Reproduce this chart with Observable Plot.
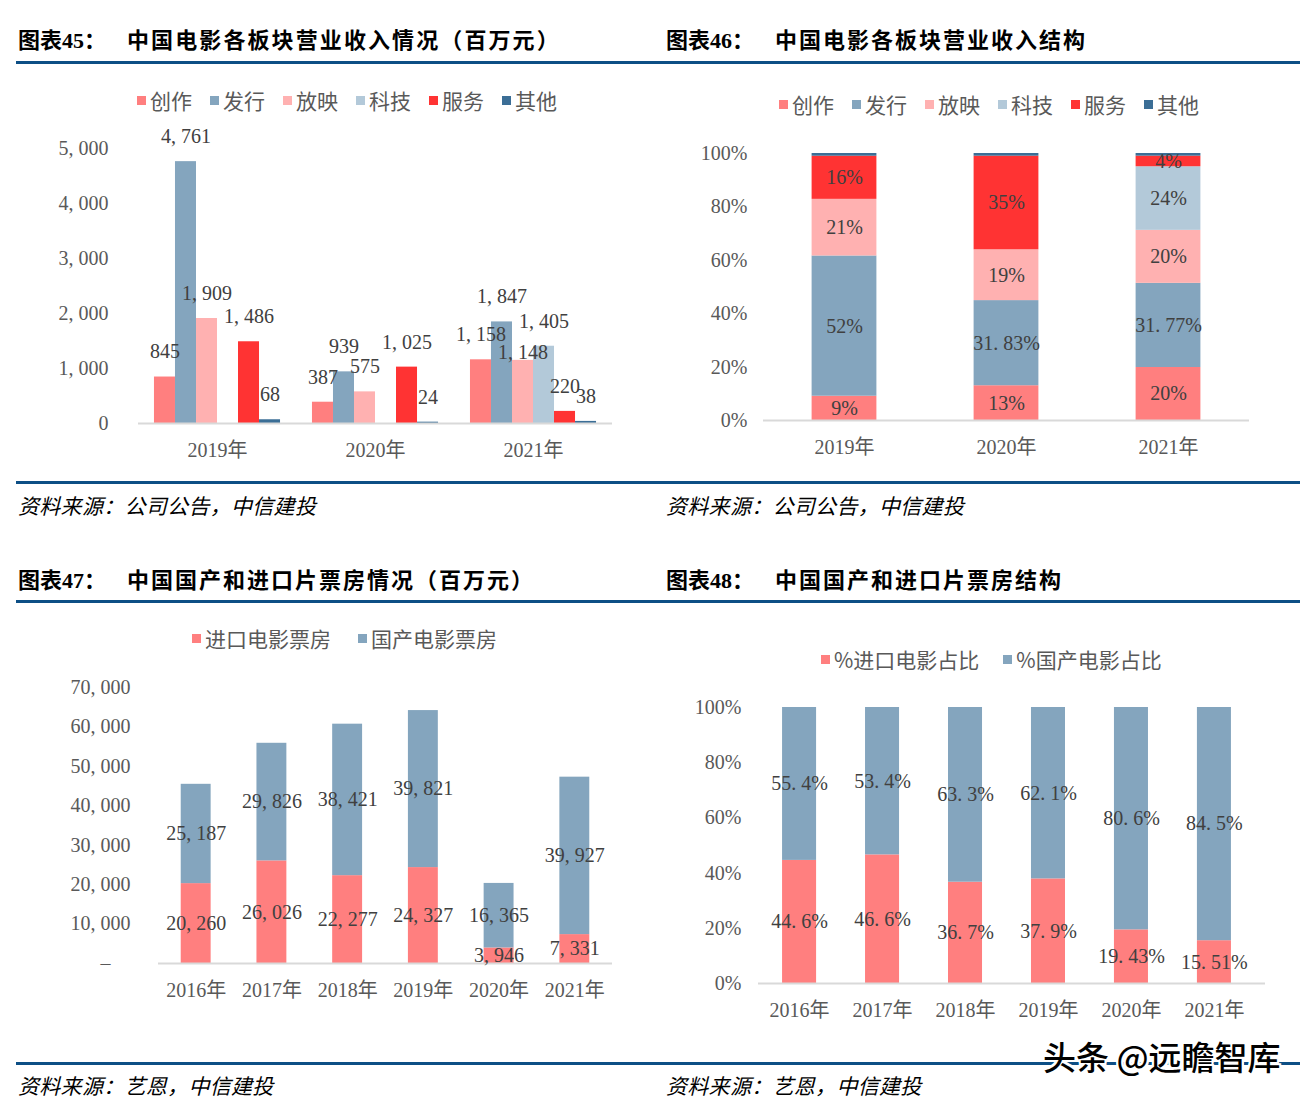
<!DOCTYPE html>
<html><head><meta charset="utf-8">
<script src="https://cdn.jsdelivr.net/npm/d3@7"></script>
<script src="https://cdn.jsdelivr.net/npm/@observablehq/plot@0.6"></script>
<style>
body{margin:0;background:#fff;}
#page{position:relative;width:1314px;height:1106px;overflow:hidden;background:#fff;font-family:"Liberation Serif","Noto Sans CJK SC",serif;}
.rule{position:absolute;left:16px;width:1284px;height:3px;background:#0d4f85;}
.title{position:absolute;font-size:22px;font-weight:bold;color:#000;line-height:28px;white-space:nowrap;font-family:"Liberation Serif","Noto Sans CJK SC",serif;}
.src{position:absolute;font-size:21px;letter-spacing:0.3px;font-style:italic;color:#000;line-height:26px;white-space:nowrap;font-family:"Noto Sans CJK SC",sans-serif;}
.legend{position:absolute;display:flex;font-size:21px;color:#595959;line-height:26px;white-space:nowrap;font-family:"Noto Sans CJK SC",sans-serif;}
.legend .item{display:flex;align-items:center;}
.legend .sw{width:9px;height:9px;margin-right:4px;}
.chart{position:absolute;}
.wm{position:absolute;font-size:33px;font-weight:500;color:#000;line-height:38px;white-space:nowrap;font-family:"Noto Sans CJK SC",sans-serif;
  text-shadow:-2px 0 #fff,2px 0 #fff,0 -2px #fff,0 2px #fff,-2px -2px #fff,2px 2px #fff,-2px 2px #fff,2px -2px #fff;}
</style></head>
<body>
<div id="page"></div>
<script>
// ---------- data ----------
const sectors = ["创作", "发行", "放映", "科技", "服务", "其他"];
const sectorColors = ["#ff7f7f", "#84a5be", "#ffb1b1", "#b3c9d9", "#ff3333", "#3b6e96"];
const revYears = ["2019年", "2020年", "2021年"];
const revCreation = [845, 387, 1158];
const revDistribution = [4761, 939, 1847];
const revScreening = [1909, 575, 1148];
const revTech = [0, 0, 1405];
const revService = [1486, 1025, 220];
const revOther = [68, 24, 38];

const shareCreation = [9, 13, 20];
const shareDistribution = [52, 31.83, 31.77];
const shareScreening = [21, 19, 20];
const shareTech = [0, 0, 24];
const shareService = [16, 35, 4];
const shareOther = [1, 1, 1];

const boxTypes = ["进口电影票房", "国产电影票房"];
const boxShareTypes = ["%进口电影占比", "%国产电影占比"];
const boxColors = ["#ff7f7f", "#84a5be"];
const boxYears = ["2016年", "2017年", "2018年", "2019年", "2020年", "2021年"];
const boxImported = [20260, 26026, 22277, 24327, 3946, 7331];
const boxDomestic = [25187, 29826, 38421, 39821, 16365, 39927];
const shareImported = [44.6, 46.6, 36.7, 37.9, 19.43, 15.51];
const shareDomestic = [55.4, 53.4, 63.3, 62.1, 80.6, 84.5];

const revTicks = [0, 1000, 2000, 3000, 4000, 5000];
const boxTicks = [0, 10000, 20000, 30000, 40000, 50000, 60000, 70000];
const pctTicks = [0, 20, 40, 60, 80, 100];

// ---------- helpers ----------
const page = document.getElementById("page");
const sp = s => String(s).replace(/([,.])/g, "$1\u2005");
const num = d => sp(d3.format(",")(d));
function el(cls, css, html) {
  const e = document.createElement("div");
  e.className = cls;
  Object.assign(e.style, css);
  if (html != null) e.innerHTML = html;
  page.appendChild(e);
  return e;
}
function legend(left, top, names, colors, gap) {
  const L = el("legend", {left: left + "px", top: top + "px"});
  names.forEach((n, i) => {
    const it = document.createElement("div");
    it.className = "item";
    it.style.marginRight = gap + "px";
    it.innerHTML = `<span class="sw" style="background:${colors[i]}"></span><span>${n}</span>`;
    L.appendChild(it);
  });
}
const numFont = `"Liberation Serif","Noto Sans CJK SC",serif`;
const baseStyle = {fontFamily: numFont, fontSize: "20px", color: "#595959", background: "transparent", overflow: "visible"};

// ---------- frame: rules, titles, sources ----------
[61, 481, 600, 1062].forEach(y => el("rule", {top: y + "px"}));
el("title", {left: "18px", top: "27px"}, "图表45：");
el("title", {left: "127px", top: "27px", letterSpacing: "2.1px"}, "中国电影各板块营业收入情况（百万元）");
el("title", {left: "666px", top: "27px"}, "图表46：");
el("title", {left: "775px", top: "27px", letterSpacing: "2px"}, "中国电影各板块营业收入结构");
el("title", {left: "18px", top: "567px"}, "图表47：");
el("title", {left: "127px", top: "567px", letterSpacing: "2px"}, "中国国产和进口片票房情况（百万元）");
el("title", {left: "666px", top: "567px"}, "图表48：");
el("title", {left: "775px", top: "567px", letterSpacing: "2px"}, "中国国产和进口片票房结构");
el("src", {left: "18px", top: "492px"}, "资料来源：公司公告，中信建投");
el("src", {left: "666px", top: "492px"}, "资料来源：公司公告，中信建投");
el("src", {left: "18px", top: "1072px"}, "资料来源：艺恩，中信建投");
el("src", {left: "666px", top: "1072px"}, "资料来源：艺恩，中信建投");

legend(137, 87, sectors, sectorColors, 18);
legend(779, 91, sectors, sectorColors, 18);
legend(192, 625, boxTypes, boxColors, 27);
legend(821, 646, boxShareTypes, boxColors, 24);

// ---------- chart 1: revenue by sector ----------
const revSeries = [revCreation, revDistribution, revScreening, revTech, revService, revOther];
const revData = [];
revYears.forEach((yr, i) => sectors.forEach((s, j) => revData.push({year: yr, sector: s, value: revSeries[j][i]})));
const revBars = revData.filter(d => d.value > 0);
// one label in 2021 was moved down in the original to avoid overlap
const isMoved = d => d.year === "2021年" && d.sector === "放映";
const c1 = Plot.plot({
  width: 650, height: 350, marginLeft: 138, marginRight: 38, marginTop: 28, marginBottom: 47,
  style: baseStyle,
  fx: {domain: revYears, padding: 0, round: false, label: null, axis: "bottom", tickSize: 0, tickPadding: 19},
  x: {domain: sectors, paddingInner: 0, paddingOuter: 0.76, round: false, axis: null},
  y: {domain: [0, 5000], ticks: revTicks, tickFormat: num, tickSize: 0, tickPadding: 30, label: null},
  color: {domain: sectors, range: sectorColors},
  marks: [
    Plot.barY(revBars, {fx: "year", x: "sector", y: "value", fill: "sector"}),
    Plot.ruleY([0], {stroke: "#d9d9d9", strokeWidth: 2}),
    Plot.text(revBars.filter(d => !isMoved(d)), {fx: "year", x: "sector", y: "value", text: d => num(d.value), dy: -25, fill: "#404040", fontSize: 20}),
    Plot.text(revBars.filter(isMoved), {fx: "year", x: "sector", y: "value", text: d => num(d.value), dy: -8, fill: "#404040", fontSize: 20})
  ]
});
c1.classList.add("chart"); Object.assign(c1.style, {left: "0px", top: "120px"});
page.appendChild(c1);

// ---------- chart 2: revenue structure ----------
const shareSeries = [shareCreation, shareDistribution, shareScreening, shareTech, shareService, shareOther];
const shareData = [];
revYears.forEach((yr, i) => sectors.forEach((s, j) => shareData.push({year: yr, sector: s, value: shareSeries[j][i]})));
const c2 = Plot.plot({
  width: 640, height: 350, marginLeft: 103, marginRight: 51, marginTop: 33, marginBottom: 50,
  style: baseStyle,
  x: {domain: revYears, paddingInner: 0.6, paddingOuter: 0.3, round: false, tickSize: 0, tickPadding: 19, label: null},
  y: {domain: [0, 1], ticks: pctTicks.map(d => d / 100), tickFormat: d => Math.round(d * 100) + "%", tickSize: 0, tickPadding: 16, label: null},
  color: {domain: sectors, range: sectorColors},
  marks: [
    Plot.barY(shareData, Plot.stackY({offset: "normalize", x: "year", y: "value", fill: "sector"})),
    Plot.ruleY([0], {stroke: "#d9d9d9", strokeWidth: 2}),
    Plot.text(shareData, Plot.stackY({offset: "normalize", x: "year", y: "value", z: "sector",
      text: d => (d.value > 2 && d.sector !== "其他") ? sp(d.value + "%") : "", fill: "#404040", fontSize: 20}))
  ]
});
c2.classList.add("chart"); Object.assign(c2.style, {left: "660px", top: "120px"});
page.appendChild(c2);

// ---------- chart 3: box office ----------
const boxData = [];
boxYears.forEach((yr, i) => {
  boxData.push({year: yr, type: boxTypes[0], value: boxImported[i]});
  boxData.push({year: yr, type: boxTypes[1], value: boxDomestic[i]});
});
const c3 = Plot.plot({
  width: 650, height: 360, marginLeft: 158, marginRight: 38, marginTop: 27, marginBottom: 57,
  style: baseStyle,
  x: {domain: boxYears, range: [158, 612], paddingInner: 0.605, paddingOuter: 0.3, round: false, tickSize: 0, tickPadding: 19, label: null},
  y: {domain: [0, 70000], ticks: boxTicks, tickFormat: d => d === 0 ? "\u2013\u00a0\u00a0\u00a0\u00a0" : num(d), tickSize: 0, tickPadding: 28, label: null},
  color: {domain: boxTypes, range: boxColors},
  marks: [
    Plot.barY(boxData, Plot.stackY({x: "year", y: "value", fill: "type"})),
    Plot.ruleY([0], {stroke: "#d9d9d9", strokeWidth: 2}),
    Plot.text(boxData, Plot.stackY({x: "year", y: "value", z: "type", text: d => num(d.value), fill: "#404040", fontSize: 20}))
  ]
});
c3.classList.add("chart"); Object.assign(c3.style, {left: "0px", top: "660px"});
page.appendChild(c3);

// ---------- chart 4: box office structure ----------
const boxShareData = [];
boxYears.forEach((yr, i) => {
  boxShareData.push({year: yr, type: boxShareTypes[0], value: shareImported[i]});
  boxShareData.push({year: yr, type: boxShareTypes[1], value: shareDomestic[i]});
});
const c4 = Plot.plot({
  width: 640, height: 360, marginLeft: 98, marginRight: 35, marginTop: 27, marginBottom: 57,
  style: baseStyle,
  x: {domain: boxYears, range: [98, 595], paddingInner: 0.59, paddingOuter: 0.29, round: false, tickSize: 0, tickPadding: 19, label: null},
  y: {domain: [0, 100], ticks: pctTicks, tickFormat: d => d + "%", tickSize: 0, tickPadding: 17, label: null, clamp: true},
  color: {domain: boxShareTypes, range: boxColors},
  marks: [
    Plot.barY(boxShareData, Plot.stackY({x: "year", y: "value", fill: "type"})),
    Plot.ruleY([0], {stroke: "#d9d9d9", strokeWidth: 2}),
    Plot.text(boxShareData, Plot.stackY({x: "year", y: "value", z: "type", text: d => sp(d.value + "%"), fill: "#404040", fontSize: 20}))
  ]
});
c4.classList.add("chart"); Object.assign(c4.style, {left: "660px", top: "680px"});
page.appendChild(c4);

// watermark
el("wm", {left: "1043px", top: "1037px"}, "头条 @远瞻智库");
</script>
</body></html>
